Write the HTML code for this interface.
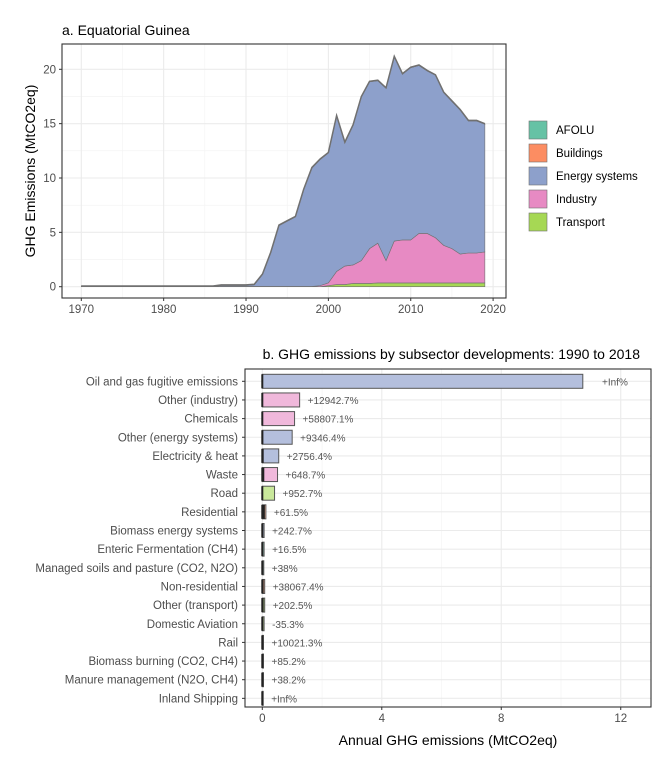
<!DOCTYPE html>
<html><head><meta charset="utf-8"><style>
body{margin:0;background:#fff;font-family:"Liberation Sans",sans-serif}
svg text{font-family:"Liberation Sans",sans-serif}
</style></head><body>
<svg id="c" width="672" height="768" xmlns="http://www.w3.org/2000/svg"></svg>
<script>
const years=[];for(let y=1970;y<=2019;y++)years.push(y);
const transport=[0,0,0,0,0,0,0,0,0,0,0,0,0,0,0,0,0,0,0,0,0,0,0,0,0,0,0,0,0,0,0.1,0.2,0.2,0.3,0.3,0.3,0.35,0.35,0.35,0.35,0.35,0.35,0.35,0.35,0.35,0.35,0.35,0.35,0.35,0.35];
const industry=[0.02,0.02,0.02,0.02,0.02,0.02,0.02,0.02,0.02,0.02,0.02,0.02,0.02,0.02,0.02,0.02,0.02,0.02,0.02,0.02,0.02,0.02,0.02,0.02,0.02,0.02,0.02,0.02,0.02,0.1,0.25,1.2,1.7,1.7,2.1,3.2,3.65,2.05,3.85,3.95,3.95,4.55,4.55,4.15,3.45,3.15,2.65,2.75,2.75,2.85];
const energy=[0,0,0,0,0,0,0,0,0,0,0,0,0,0,0,0,0,0.1,0.1,0.1,0.1,0.15,1.1,3.1,5.6,6.0,6.4,8.9,10.9,11.6,11.95,14.3,11.35,12.85,15.05,15.35,14.95,15.85,16.95,15.25,15.85,15.45,14.95,14.95,14.05,13.55,13.25,12.15,12.15,11.75];
const buildings=years.map(()=>0.02);
const afolu=years.map(()=>0.03);
const sectorNames=["AFOLU","Buildings","Energy systems","Industry","Transport"];
const sectorColors=["#66c2a5","#fc8d62","#8da0cb","#e78ac3","#a6d854"];
const xTicks=[1970,1980,1990,2000,2010,2020];
const yTicks=[0,5,10,15,20];

const subsectors=["Oil and gas fugitive emissions","Other (industry)","Chemicals","Other (energy systems)","Electricity & heat","Waste","Road","Residential","Biomass energy systems","Enteric Fermentation (CH4)","Managed soils and pasture (CO2, N2O)","Non-residential","Other (transport)","Domestic Aviation","Rail","Biomass burning (CO2, CH4)","Manure management (N2O, CH4)","Inland Shipping"];
const value2018=[10.73,1.25,1.08,1.0,0.55,0.51,0.41,0.12,0.06,0.06,0.05,0.08,0.08,0.06,0.04,0.04,0.04,0.03];
const value1990=[0.04,0.06,0.04,0.07,0.08,0.1,0.06,0.12,0.06,0.06,0.05,0.08,0.08,0.06,0.04,0.04,0.04,0.03];
const subSector=["Energy systems","Industry","Industry","Energy systems","Energy systems","Industry","Transport","Buildings","Energy systems","AFOLU","AFOLU","Buildings","Transport","Transport","Transport","AFOLU","AFOLU","Transport"];
const changeLabels=["+Inf%","+12942.7%","+58807.1%","+9346.4%","+2756.4%","+648.7%","+952.7%","+61.5%","+242.7%","+16.5%","+38%","+38067.4%","+202.5%","-35.3%","+10021.3%","+85.2%","+38.2%","+Inf%"];
const bxTicks=[0,4,8,12];

const svg=document.getElementById('c');const NS="http://www.w3.org/2000/svg";
function mk(t,a,p,name){const e=document.createElementNS(NS,t);for(const k in a)e.setAttribute(k,a[k]);


(p||svg).appendChild(e);return e;}
function tx(x,y,s,a,name,p){const e=mk('text',Object.assign({x:x,y:y},a),p,name);e.textContent=s;return e;}

// Panel a
const L=62,R=506,T=44,B=298;
const X=y=>81.3+(y-1970)*8.236, Y=v=>286.7-v*10.87;
const ga=mk('g',{},svg,'panel-a');
mk('rect',{x:L,y:T,width:R-L,height:B-T,fill:'#fff'},ga,'plot-background');
for(let y=1975;y<=2015;y+=10)mk('line',{x1:X(y),x2:X(y),y1:T,y2:B,stroke:'#f2f2f2','stroke-width':0.6},ga,'minor-gridline');
[2.5,7.5,12.5,17.5].forEach(v=>mk('line',{x1:L,x2:R,y1:Y(v),y2:Y(v),stroke:'#f2f2f2','stroke-width':0.6},ga,'minor-gridline'));
xTicks.forEach(y=>mk('line',{x1:X(y),x2:X(y),y1:T,y2:B,stroke:'#ebebeb','stroke-width':1.1},ga,'gridline'));
yTicks.forEach(v=>mk('line',{x1:L,x2:R,y1:Y(v),y2:Y(v),stroke:'#ebebeb','stroke-width':1.1},ga,'gridline'));
const stackOrder=[[transport,4],[industry,3],[energy,2],[buildings,1],[afolu,0]];
let base=years.map(()=>0);
stackOrder.forEach(([arr,ci])=>{const top=base.map((b,i)=>b+arr[i]);
 let d='M'+years.map((y,i)=>X(y)+','+Y(top[i])).join('L');
 for(let i=years.length-1;i>=0;i--)d+='L'+X(years[i])+','+Y(base[i]);
 mk('path',{d:d+'Z',fill:sectorColors[ci],stroke:'#707070','stroke-width':0.6},ga,'area-'+sectorNames[ci].toLowerCase().replace(/ /g,'-'));
 base=top;});
mk('path',{d:'M'+years.map((y,i)=>X(y)+','+Y(base[i])).join('L'),fill:'none',stroke:'#707070','stroke-width':1.5},ga,'total-line');
mk('rect',{x:L,y:T,width:R-L,height:B-T,fill:'none',stroke:'#333','stroke-width':1.1},ga,'panel-border');
xTicks.forEach(y=>{mk('line',{x1:X(y),x2:X(y),y1:B,y2:B+3,stroke:'#333'},ga,'x-tick');tx(X(y),B+15,y,{'text-anchor':'middle','font-size':11.5,fill:'#4d4d4d'},'x-tick-label',ga);});
yTicks.forEach(v=>{mk('line',{x1:L-3,x2:L,y1:Y(v),y2:Y(v),stroke:'#333'},ga,'y-tick');tx(L-6,Y(v)+4,v,{'text-anchor':'end','font-size':11.5,fill:'#4d4d4d'},'y-tick-label',ga);});
tx(0,0,'GHG Emissions (MtCO2eq)',{transform:'translate(35,171) rotate(-90)','text-anchor':'middle','font-size':14,fill:'#000'},'y-axis-title',ga);
tx(62,35,'a. Equatorial Guinea',{'font-size':14,fill:'#000'},'panel-a-title',ga);
const lg=mk('g',{},svg,'legend');
sectorNames.forEach((n,i)=>{const y=121+i*23;mk('rect',{x:529,y:y,width:18,height:18,fill:sectorColors[i],stroke:'#707070','stroke-width':0.6},lg,'legend-key');tx(556,y+13,n,{'font-size':11.5,fill:'#000'},'legend-label',lg);});

// Panel b
const bL=245,bR=651,bT=369,bB=707;
const BX=v=>262.3+v*29.87, BY=i=>381.3+i*18.65;
const gb=mk('g',{},svg,'panel-b');
[2,6,10].forEach(v=>mk('line',{x1:BX(v),x2:BX(v),y1:bT,y2:bB,stroke:'#f2f2f2','stroke-width':0.6},gb,'minor-gridline'));
bxTicks.forEach(v=>mk('line',{x1:BX(v),x2:BX(v),y1:bT,y2:bB,stroke:'#ebebeb','stroke-width':1.1},gb,'gridline'));
subsectors.forEach((s,i)=>mk('line',{x1:bL,x2:bR,y1:BY(i),y2:BY(i),stroke:'#ebebeb','stroke-width':1.1},gb,'gridline'));
const light={"Energy systems":"#b4bfdd","Industry":"#f0b8db","Transport":"#c9e89b","Buildings":"#fdbba1","AFOLU":"#a3dac9"};
subsectors.forEach((s,i)=>{
 mk('rect',{x:BX(0),y:BY(i)-7,width:Math.max(0.5,BX(value2018[i])-BX(0)),height:14,fill:light[subSector[i]],stroke:'#555','stroke-width':1},gb,'bar-'+i);
 mk('rect',{x:BX(0)-1,y:BY(i)-7,width:Math.max(2,BX(value1990[i])-BX(0)),height:14,fill:'#222'},gb,'bar-1990-'+i);
 const lx=i==0?602:BX(value2018[i])+8;
 tx(lx,BY(i)+4,changeLabels[i],{'font-size':10,fill:'#555'},'change-label',gb);
 tx(238,BY(i)+4,s,{'text-anchor':'end','font-size':11.5,fill:'#4d4d4d'},'category-label',gb);
 mk('line',{x1:bL-3,x2:bL,y1:BY(i),y2:BY(i),stroke:'#333'},gb,'y-tick');
});
mk('rect',{x:bL,y:bT,width:bR-bL,height:bB-bT,fill:'none',stroke:'#333','stroke-width':1.1},gb,'panel-border');
bxTicks.forEach(v=>{mk('line',{x1:BX(v),x2:BX(v),y1:bB,y2:bB+3,stroke:'#333'},gb,'x-tick');tx(BX(v),bB+15,v,{'text-anchor':'middle','font-size':11.5,fill:'#4d4d4d'},'x-tick-label',gb);});
tx(448,745,'Annual GHG emissions (MtCO2eq)',{'text-anchor':'middle','font-size':14,fill:'#000'},'x-axis-title',gb);
tx(640,359,'b. GHG emissions by subsector developments: 1990 to 2018',{'text-anchor':'end','font-size':14,fill:'#000'},'panel-b-title',gb);
</script>
</body></html>
